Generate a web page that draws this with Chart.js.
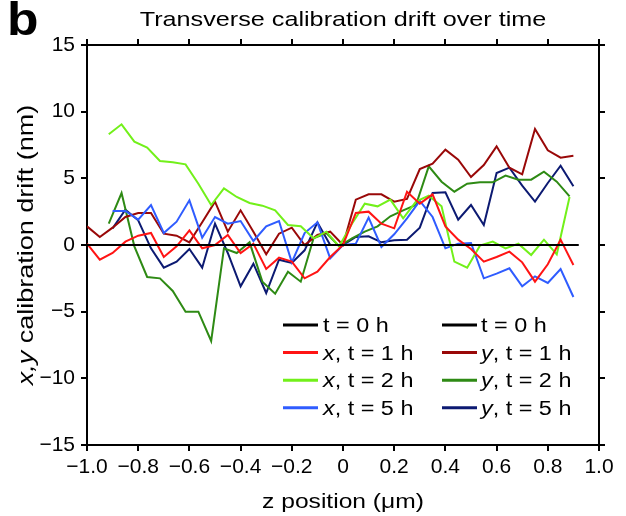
<!DOCTYPE html>
<html>
<head>
<meta charset="utf-8">
<script src="https://cdn.jsdelivr.net/npm/chart.js@4.4.1/dist/chart.umd.min.js"></script>
<style>
  body { margin: 0; background: #fff; }
  canvas { display: block; }
</style>
</head>
<body>
<canvas id="drift" width="626" height="516"></canvas>
<script>
// z positions (um) of the scan steps
const zAll = [-1.0, -0.95, -0.9, -0.85, -0.8, -0.75, -0.7, -0.65, -0.6, -0.55,
              -0.5, -0.45, -0.4, -0.35, -0.3, -0.25, -0.2, -0.15, -0.1, -0.05,
              0, 0.05, 0.1, 0.15, 0.2, 0.25, 0.3, 0.35, 0.4, 0.45,
              0.5, 0.55, 0.6, 0.65, 0.7, 0.75, 0.8, 0.85, 0.9];
const z5h = zAll.slice(2);
const z2h = [-0.915, -0.865, -0.815, -0.765, -0.715, -0.665, -0.615, -0.565, -0.515, -0.465,
             -0.415, -0.365, -0.315, -0.265, -0.215, -0.165, -0.115, -0.065, -0.015, 0.035,
             0.085, 0.135, 0.185, 0.235, 0.285, 0.335, 0.385, 0.435, 0.485, 0.535,
             0.585, 0.635, 0.685, 0.735, 0.785, 0.835, 0.885];
const zRef = [-1.0, 0.92];

// drift in nm
const ref0 = [0, 0];
const x1h = [0.1, -1.1, -0.6, 0.25, 0.7, 0.9, -0.9, -0.1, 1.1, -0.25,
             0.0, 0.75, -0.6, 0.1, -1.8, -0.95, -1.25, -2.5, -2.0, -0.9,
             0, 2.4, 2.5, 1.6, 1.25, 4.0, 3.1, 3.8, 1.4, 0.4,
             -0.3, -1.25, -0.9, -0.5, -1.3, -2.75, -1.45, 0.4, -1.5];
const y1h = [1.4, 0.6, 1.3, 2.1, 2.4, 2.4, 0.85, 0.7, 0.2, 1.7,
             3.25, 1.0, 2.6, 1.0, -0.7, 0.85, 1.3, 0.0, 0.75, 1.0,
             0, 3.4, 3.8, 3.8, 3.25, 3.45, 5.7, 6.1, 7.15, 6.4,
             5.1, 6.0, 7.4, 5.8, 5.3, 8.7, 7.1, 6.55, 6.7];
const x2h = [8.3, 9.05, 7.75, 7.3, 6.3, 6.2, 6.05, 4.6, 3.0, 4.25,
             3.6, 3.15, 2.95, 2.6, 1.5, 1.4, 0.5, 1.0, -0.1, 1.6,
             3.1, 2.9, 3.4, 2.0, 3.25, 3.7, 2.9, -1.25, -1.7, -0.05,
             0.25, -0.25, 0.1, -0.75, 0.4, -0.7, 3.6];
const y2h = [1.6, 3.9, -0.1, -2.4, -2.5, -3.45, -5.0, -5.0, -7.2, -0.25,
             -0.6, 0.2, -2.75, -3.65, -2.0, -2.75, 0.5, 0.9, -0.1, 0.5,
             1.0, 1.4, 2.15, 2.6, 3.0, 5.9, 4.75, 4.0, 4.6, 4.7,
             4.7, 5.2, 4.9, 4.9, 5.5, 4.75, 3.65];
const x5h = [2.55, 2.55, 1.9, 3.0, 0.9, 1.75, 3.35, 0.55, 2.1, 1.6,
             1.8, 0.3, 1.4, 1.8, -1.3, 0.9, 1.7, -1.0, 0, 0.1,
             2.05, -0.15, 0.8, 2.0, 3.3, 2.1, -0.25, 0.1, 0.15, -2.5,
             -2.15, -1.75, -3.1, -2.35, -2.85, -1.8, -3.9];
const y5h = [1.25, 2.65, 1.85, -0.25, -1.7, -1.25, -0.3, -1.7, 1.6, -0.6,
             -3.1, -1.4, -3.6, -1.1, -1.35, -0.4, 1.7, 0.0, 0, 0.6,
             0.65, 0.2, 0.35, 0.4, 1.3, 3.9, 3.95, 1.9, 3.0, 1.5,
             5.4, 5.8, 4.45, 3.25, 4.65, 5.95, 4.4];

const xTicks = [-1.0, -0.8, -0.6, -0.4, -0.2, 0, 0.2, 0.4, 0.6, 0.8, 1.0];
const yTicks = [-15, -10, -5, 0, 5, 10, 15];

const FONT = '"Liberation Sans", Arial, Helvetica, sans-serif';
const SX = 1.2; // text in this figure is set a little wide

function pairs(xs, ys) {
    return ys.map((v, i) => ({ x: xs[i], y: v }));
}

function minus(s) {
    return String(s).replace('-', '\u2212');
}

// draws text made of plain and italic pieces, widened by SX
function drawParts(ctx, parts, x, y, size, align) {
    ctx.save();
    ctx.translate(x, y);
    ctx.scale(SX, 1);
    let w = 0;
    parts.forEach(p => {
        ctx.font = (p.it ? 'italic ' : '') + size + 'px ' + FONT;
        w += ctx.measureText(p.t).width;
    });
    let cx = align === 'center' ? -w / 2 : 0;
    ctx.textAlign = 'left';
    parts.forEach(p => {
        ctx.font = (p.it ? 'italic ' : '') + size + 'px ' + FONT;
        ctx.fillText(p.t, cx, 0);
        cx += ctx.measureText(p.t).width;
    });
    ctx.restore();
}

function labelParts(label) {
    const k = label.indexOf(',');
    if (k < 0) return [{ t: label }];
    return [{ t: label.slice(0, k), it: true }, { t: label.slice(k) }];
}

const datasets = [
    { label: 't = 0 h',    data: pairs(zRef, ref0), borderColor: '#000000' },
    { label: 'x, t = 1 h', data: pairs(zAll, x1h),  borderColor: '#ff1414' },
    { label: 'x, t = 2 h', data: pairs(z2h, x2h),   borderColor: '#72f01a' },
    { label: 'x, t = 5 h', data: pairs(z5h, x5h),   borderColor: '#2f5cff' },
    { label: 't = 0 h',    data: pairs(zRef, ref0), borderColor: '#000000' },
    { label: 'y, t = 1 h', data: pairs(zAll, y1h),  borderColor: '#990808' },
    { label: 'y, t = 2 h', data: pairs(z2h, y2h),   borderColor: '#2e8a14' },
    { label: 'y, t = 5 h', data: pairs(z5h, y5h),   borderColor: '#0c1a72' }
];
datasets.forEach(d => {
    d.borderWidth = 2;
    d.pointRadius = 0;
    d.tension = 0;
    d.fill = false;
});

// two column legend inside the plot
const legendBox = {
    id: 'legendBox',
    afterDatasetsDraw(chart) {
        const ctx = chart.ctx;
        const lineX = [283, 442];
        const textX = [323, 481];
        const rowY = [325, 352.6, 380.2, 407.8];
        chart.data.datasets.forEach((d, i) => {
            const col = Math.floor(i / 4), row = i % 4;
            ctx.save();
            ctx.strokeStyle = d.borderColor;
            ctx.lineWidth = 3;
            ctx.beginPath();
            ctx.moveTo(lineX[col], rowY[row]);
            ctx.lineTo(lineX[col] + 35, rowY[row]);
            ctx.stroke();
            ctx.fillStyle = '#000';
            ctx.textBaseline = 'alphabetic';
            drawParts(ctx, labelParts(d.label), textX[col], rowY[row] + 7, 19.5, 'left');
            ctx.restore();
        });
    }
};

// panel letter, title and axis titles
const labels = {
    id: 'labels',
    afterDraw(chart) {
        const ctx = chart.ctx;
        const a = chart.chartArea;
        ctx.save();
        ctx.fillStyle = '#000';
        ctx.textBaseline = 'alphabetic';
        ctx.save();
        ctx.translate(7, 35);
        ctx.scale(1.12, 1);
        ctx.font = 'bold 46px ' + FONT;
        ctx.fillText('b', 0, 0);
        ctx.restore();
        drawParts(ctx, [{ t: 'Transverse calibration drift over time' }], (a.left + a.right) / 2, 26, 21, 'center');
        drawParts(ctx, [{ t: 'z position (\u03bcm)' }], (a.left + a.right) / 2, 508, 20.5, 'center');
        ctx.translate(33, (a.top + a.bottom) / 2);
        ctx.rotate(-Math.PI / 2);
        drawParts(ctx, [{ t: 'x,y', it: true }, { t: ' calibration drift (nm)' }], 0, 0, 22.5, 'center');
        ctx.restore();
    }
};

const tickGrid = { drawOnChartArea: false, drawTicks: true, tickLength: 6, color: '#000', lineWidth: 2 };
const edge = { display: true, color: '#000', width: 2 };

function xAxis(pos, showLabels, h) {
    return {
        type: 'linear', position: pos, min: -1, max: 1,
        afterBuildTicks: s => { s.ticks = xTicks.map(v => ({ value: v })); },
        ticks: {
            display: showLabels, color: '#000', padding: 4,
            font: { size: 21, family: FONT },
            maxRotation: 0, autoSkip: false,
            callback: v => v === 0 ? '0' : minus(v.toFixed(1))
        },
        grid: tickGrid, border: edge,
        afterFit: s => { s.height = h; }
    };
}

function yAxis(pos, showLabels, w) {
    return {
        type: 'linear', position: pos, min: -15, max: 15,
        afterBuildTicks: s => { s.ticks = yTicks.map(v => ({ value: v })); },
        ticks: {
            display: showLabels, color: '#000', padding: 6,
            font: { size: 21, family: FONT },
            callback: v => minus(v)
        },
        grid: tickGrid, border: edge,
        afterFit: s => { s.width = w; }
    };
}

const ctx = document.getElementById('drift').getContext('2d');
const chart = new Chart(ctx, {
    type: 'line',
    data: { datasets: datasets },
    options: {
        responsive: false,
        devicePixelRatio: 1,
        animation: false,
        layout: { padding: 0 },
        plugins: { legend: { display: false }, tooltip: { enabled: false } },
        scales: {
            x: xAxis('bottom', true, 71),
            xTop: xAxis('top', false, 45),
            y: yAxis('left', true, 87),
            yRight: yAxis('right', false, 27)
        }
    },
    plugins: [legendBox, labels]
});
</script>
</body>
</html>
